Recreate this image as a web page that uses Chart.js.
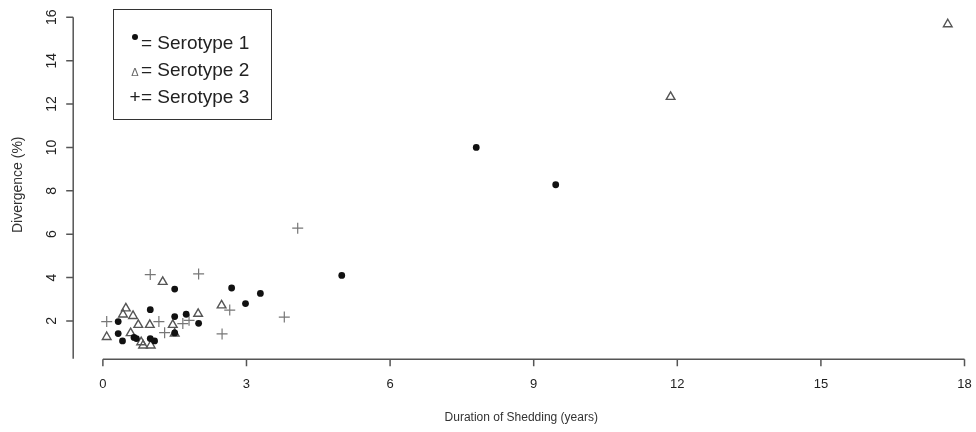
<!DOCTYPE html>
<html>
<head>
<meta charset="utf-8">
<script src="https://cdn.jsdelivr.net/npm/chart.js@4"></script>
<style>
  body { margin: 0; background: #fff; }
  #wrap { position: relative; width: 976px; height: 432px; }
  #legendBox {
    position: absolute; left: 113px; top: 9px; width: 157px; height: 90px;
    border: 1.5px solid #333; font-family: "Liberation Sans", Arial, sans-serif;
    font-size: 19px; color: #222; padding-top: 19px; box-sizing: content-box;
  }
  #legendBox .row { height: 27px; line-height: 27px; padding-left: 15px; white-space: nowrap; }
  #legendBox .sym { display: inline-block; width: 12px; text-align: center; }
  #legendBox .dot {
    display: inline-block; width: 6px; height: 6px; border-radius: 50%;
    background: #111; position: relative; top: -9px;
  }
</style>
</head>
<body>
<div id="wrap">
  <canvas id="scatter" width="976" height="432"></canvas>
  <div id="legendBox">
    <div class="row"><span class="sym"><span class="dot"></span></span>= Serotype 1</div>
    <div class="row"><span class="sym" style="font-size:11px;color:#666;">&#916;</span>= Serotype 2</div>
    <div class="row"><span class="sym">+</span>= Serotype 3</div>
  </div>
</div>
<script>
// duration of shedding (years) vs divergence (%)
const sero1X = [0.32, 0.99, 1.50, 1.74, 2.00, 0.32, 0.41, 0.65, 0.70, 0.99, 1.08, 1.50, 1.50, 2.69, 2.98, 3.29, 4.99, 7.80, 9.46];
const sero1Y = [1.97, 2.52, 2.20, 2.31, 1.89, 1.42, 1.08, 1.24, 1.19, 1.19, 1.08, 1.45, 3.47, 3.52, 2.80, 3.27, 4.10, 10.00, 8.28];

const sero2X = [0.08, 0.42, 0.48, 0.63, 0.58, 0.74, 0.80, 0.84, 0.98, 1.00, 1.25, 1.46, 1.50, 1.99, 2.48, 11.86, 17.65];
const sero2Y = [1.26, 2.30, 2.58, 2.23, 1.44, 1.82, 1.02, 0.87, 1.82, 0.87, 3.80, 1.82, 1.42, 2.33, 2.72, 12.33, 15.68];

const sero3X = [0.08, 0.99, 1.17, 1.29, 1.67, 1.80, 2.00, 2.49, 2.65, 3.79, 4.07];
const sero3Y = [1.97, 4.14, 1.97, 1.46, 1.88, 2.03, 4.17, 1.40, 2.50, 2.18, 6.28];

const xTicks = [0, 3, 6, 9, 12, 15, 18];
const yTicks = [2, 4, 6, 8, 10, 12, 14, 16];

const toPoints = (xs, ys) => xs.map((x, i) => ({ x: x, y: ys[i] }));
const font = '"Liberation Sans", Arial, sans-serif';

// R style axes: line only between first and last tick, detached ticks
const rAxes = {
  id: 'rAxes',
  afterDraw(chart) {
    const ctx = chart.ctx;
    const xs = chart.scales.x, ys = chart.scales.y;
    const area = chart.chartArea;
    ctx.save();
    ctx.strokeStyle = '#555';
    ctx.lineWidth = 1.5;
    // x axis
    const xb = area.bottom + 0.6;
    ctx.beginPath();
    ctx.moveTo(xs.getPixelForValue(xTicks[0]), xb);
    ctx.lineTo(xs.getPixelForValue(xTicks[xTicks.length - 1]), xb);
    xTicks.forEach(v => {
      const px = xs.getPixelForValue(v);
      ctx.moveTo(px, xb);
      ctx.lineTo(px, xb + 7);
    });
    ctx.stroke();
    // y axis
    const yl = area.left;
    ctx.beginPath();
    ctx.moveTo(yl, ys.getPixelForValue(yTicks[yTicks.length - 1]));
    ctx.lineTo(yl, area.bottom);
    yTicks.forEach(v => {
      const py = ys.getPixelForValue(v);
      ctx.moveTo(yl, py);
      ctx.lineTo(yl - 7, py);
    });
    ctx.stroke();
    ctx.restore();
  }
};

new Chart(document.getElementById('scatter'), {
  type: 'scatter',
  data: {
    datasets: [
      {
        label: 'Serotype 1',
        data: toPoints(sero1X, sero1Y),
        pointStyle: 'circle',
        pointRadius: 3.4,
        backgroundColor: '#111',
        borderColor: '#111',
        borderWidth: 0
      },
      {
        label: 'Serotype 2',
        data: toPoints(sero2X, sero2Y),
        pointStyle: 'triangle',
        pointRadius: 5,
        backgroundColor: 'rgba(0,0,0,0)',
        borderColor: '#555',
        borderWidth: 1.4
      },
      {
        label: 'Serotype 3',
        data: toPoints(sero3X, sero3Y),
        pointStyle: 'cross',
        pointRadius: 5.5,
        backgroundColor: 'rgba(0,0,0,0)',
        borderColor: '#777',
        borderWidth: 1.2
      }
    ]
  },
  options: {
    responsive: false,
    animation: false,
    devicePixelRatio: 1,
    layout: { padding: { left: 0, right: 0, top: 8.4, bottom: 0 } },
    plugins: {
      legend: { display: false },
      tooltip: { enabled: false }
    },
    scales: {
      x: {
        type: 'linear',
        min: -0.62,
        max: 18.1,
        afterBuildTicks: s => { s.ticks = xTicks.map(v => ({ value: v })); },
        afterFit: s => { s.height = 73.3; },
        grid: { display: false, drawTicks: true, tickLength: 18 },
        border: { display: false },
        ticks: { padding: 0, color: '#222', font: { family: font, size: 13 }, maxRotation: 0 },
        title: {
          display: true,
          text: 'Duration of Shedding (years)',
          color: '#333',
          font: { family: font, size: 12 },
          padding: { top: 0, bottom: 7 }
        }
      },
      y: {
        type: 'linear',
        min: 0.26,
        max: 16.3,
        afterBuildTicks: s => { s.ticks = yTicks.map(v => ({ value: v })); },
        afterFit: s => { s.width = 73.2; },
        grid: { display: false, drawTicks: true, tickLength: 11 },
        border: { display: false },
        ticks: {
          padding: 2.4,
          minRotation: 90,
          maxRotation: 90,
          crossAlign: 'center',
          color: '#222',
          font: { family: font, size: 14 }
        },
        title: {
          display: true,
          text: 'Divergence (%)',
          color: '#333',
          font: { family: font, size: 14 },
          padding: { top: 10, bottom: 0 }
        }
      }
    }
  },
  plugins: [rAxes]
});
</script>
</body>
</html>
